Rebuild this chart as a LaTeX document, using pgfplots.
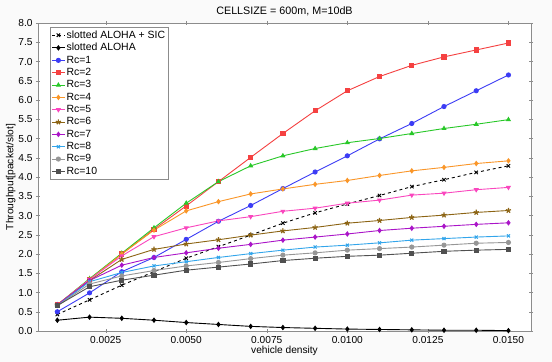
\documentclass[border=0pt]{standalone}
\usepackage{pgfplots}
\pgfplotsset{compat=1.18}
\usepackage{fontspec}
\setmainfont{Liberation Sans}

\definecolor{cRa}{RGB}{60,60,245}
\definecolor{cRb}{RGB}{245,65,65}
\definecolor{cRc}{RGB}{40,200,40}
\definecolor{cRd}{RGB}{250,150,40}
\definecolor{cRe}{RGB}{250,70,190}
\definecolor{cRf}{RGB}{140,100,20}
\definecolor{cRg}{RGB}{170,20,200}
\definecolor{cRh}{RGB}{50,165,235}
\definecolor{cRi}{RGB}{150,150,150}
\definecolor{cRj}{RGB}{80,80,80}
\definecolor{framegray}{RGB}{140,140,140}

\begin{document}
\begin{tikzpicture}
\fill[black!2] (-38bp,-31bp) rectangle (514bp,331bp);
\useasboundingbox (-38bp,-31bp) rectangle (514bp,331bp);
\begin{axis}[
  at={(0,0)}, anchor=south west,
  scale only axis,
  width=493bp, height=308bp,
  axis background/.style={fill=white},
  axis line style={framegray},
  xmin=0.0004, xmax=0.0157,
  ymin=0, ymax=8,
  xtick={0.0025,0.005,0.0075,0.01,0.0125,0.015},
  ytick={0,0.5,...,8},
  scaled x ticks=false,
  xticklabel style={/pgf/number format/.cd, fixed, fixed zerofill, precision=4},
  yticklabel style={/pgf/number format/.cd, fixed, fixed zerofill, precision=1},
  /pgf/number format/assume math mode=true,
  tick label style={font=\fontsize{10.2}{12}\selectfont},
  label style={font=\fontsize{10.2}{12}\selectfont},
  title style={font=\fontsize{10.8}{12}\selectfont, yshift=-2bp},
  tick align=center,
  major tick length=4bp,
  tick style={framegray},
  title={CELLSIZE = 600m, M=10dB},
  xlabel={vehicle density},
  ylabel={Throughput[packet/slot]},
  xlabel style={yshift=4bp},
  ylabel style={yshift=-4bp},
  every axis plot/.append style={line width=0.9bp, mark size=2.1bp},
  legend cell align=left,
  legend style={at={(0,1)}, anchor=north west, xshift=12bp, yshift=-4bp,
    font=\fontsize{10.5}{12}\selectfont, draw=framegray, row sep=-0.4bp,
    inner sep=1.5bp,
    nodes={inner xsep=1.5bp}},
  legend image code/.code={
    \draw[mark repeat=2,mark phase=2] plot coordinates {(-0.1cm,0cm) (0.12cm,0cm) (0.34cm,0cm)};},
]
% slotted ALOHA + SIC
\addplot[black, dashed, mark=x, mark options={solid, mark size=2.4bp}] coordinates {
(0.001,0.43) (0.002,0.81) (0.003,1.19) (0.004,1.54) (0.005,1.89)
(0.006,2.19) (0.007,2.49) (0.008,2.80) (0.009,3.07) (0.010,3.30)
(0.011,3.52) (0.012,3.75) (0.013,3.93) (0.014,4.12) (0.015,4.29)};
\addlegendentry{slotted ALOHA + SIC}
% slotted ALOHA
\addplot[black, mark=diamond*] coordinates {
(0.001,0.28) (0.002,0.36) (0.003,0.33) (0.004,0.28) (0.005,0.22)
(0.006,0.17) (0.007,0.12) (0.008,0.09) (0.009,0.07) (0.010,0.05)
(0.011,0.04) (0.012,0.03) (0.013,0.02) (0.014,0.02) (0.015,0.01)};
\addlegendentry{slotted ALOHA}
% Rc = 1
\addplot[cRa, mark=*] coordinates {
(0.001,0.50) (0.002,0.99) (0.003,1.54) (0.004,1.91) (0.005,2.38)
(0.006,2.85) (0.007,3.26) (0.008,3.70) (0.009,4.13) (0.010,4.55)
(0.011,4.99) (0.012,5.39) (0.013,5.83) (0.014,6.24) (0.015,6.65)};
\addlegendentry{Rc=1}
% Rc = 2
\addplot[cRb, mark=square*] coordinates {
(0.001,0.68) (0.002,1.34) (0.003,2.00) (0.004,2.64) (0.005,3.25)
(0.006,3.88) (0.007,4.51) (0.008,5.13) (0.009,5.72) (0.010,6.24)
(0.011,6.61) (0.012,6.90) (0.013,7.12) (0.014,7.30) (0.015,7.48)};
\addlegendentry{Rc=2}
% Rc = 3
\addplot[cRc, mark=triangle*] coordinates {
(0.001,0.68) (0.002,1.36) (0.003,2.02) (0.004,2.68) (0.005,3.32)
(0.006,3.88) (0.007,4.29) (0.008,4.55) (0.009,4.74) (0.010,4.89)
(0.011,5.00) (0.012,5.13) (0.013,5.26) (0.014,5.37) (0.015,5.49)};
\addlegendentry{Rc=3}
% Rc = 4
\addplot[cRd, mark=diamond*] coordinates {
(0.001,0.68) (0.002,1.34) (0.003,2.00) (0.004,2.62) (0.005,3.12)
(0.006,3.36) (0.007,3.56) (0.008,3.69) (0.009,3.81) (0.010,3.91)
(0.011,4.04) (0.012,4.16) (0.013,4.25) (0.014,4.35) (0.015,4.42)};
\addlegendentry{Rc=4}
% Rc = 5
\addplot[cRe, mark=triangle*, mark options={rotate=180}] coordinates {
(0.001,0.68) (0.002,1.34) (0.003,1.95) (0.004,2.45) (0.005,2.68)
(0.006,2.86) (0.007,2.97) (0.008,3.11) (0.009,3.19) (0.010,3.32)
(0.011,3.40) (0.012,3.53) (0.013,3.58) (0.014,3.67) (0.015,3.73)};
\addlegendentry{Rc=5}
% Rc = 6
\addplot[cRf, mark=star, mark options={line width=1.2bp, mark size=2.7bp}] coordinates {
(0.001,0.68) (0.002,1.31) (0.003,1.86) (0.004,2.12) (0.005,2.26)
(0.006,2.37) (0.007,2.49) (0.008,2.60) (0.009,2.69) (0.010,2.80)
(0.011,2.87) (0.012,2.95) (0.013,3.01) (0.014,3.08) (0.015,3.13)};
\addlegendentry{Rc=6}
% Rc = 7
\addplot[cRg, mark=diamond*] coordinates {
(0.001,0.68) (0.002,1.31) (0.003,1.71) (0.004,1.91) (0.005,2.03)
(0.006,2.15) (0.007,2.25) (0.008,2.36) (0.009,2.44) (0.010,2.52)
(0.011,2.61) (0.012,2.67) (0.013,2.72) (0.014,2.77) (0.015,2.81)};
\addlegendentry{Rc=7}
% Rc = 8
\addplot[cRh, mark=x, mark options={line width=1.1bp}] coordinates {
(0.001,0.66) (0.002,1.28) (0.003,1.52) (0.004,1.69) (0.005,1.80)
(0.006,1.91) (0.007,2.01) (0.008,2.10) (0.009,2.18) (0.010,2.23)
(0.011,2.29) (0.012,2.36) (0.013,2.40) (0.014,2.44) (0.015,2.47)};
\addlegendentry{Rc=8}
% Rc = 9
\addplot[cRi, mark=*] coordinates {
(0.001,0.66) (0.002,1.22) (0.003,1.43) (0.004,1.57) (0.005,1.69)
(0.006,1.78) (0.007,1.88) (0.008,1.97) (0.009,2.03) (0.010,2.10)
(0.011,2.14) (0.012,2.18) (0.013,2.23) (0.014,2.28) (0.015,2.30)};
\addlegendentry{Rc=9}
% Rc = 10
\addplot[cRj, mark=square*] coordinates {
(0.001,0.66) (0.002,1.15) (0.003,1.32) (0.004,1.45) (0.005,1.58)
(0.006,1.66) (0.007,1.74) (0.008,1.83) (0.009,1.89) (0.010,1.94)
(0.011,1.97) (0.012,2.02) (0.013,2.07) (0.014,2.10) (0.015,2.12)};
\addlegendentry{Rc=10}
\end{axis}
\end{tikzpicture}
\end{document}
